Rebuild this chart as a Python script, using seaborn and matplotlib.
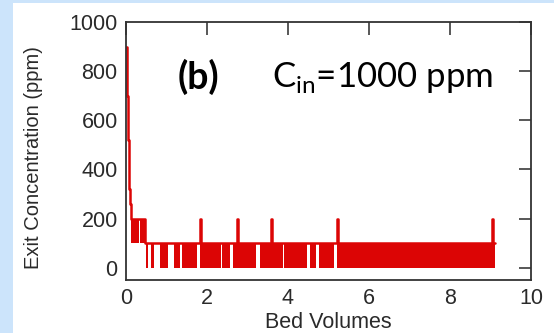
import matplotlib
matplotlib.use("Agg")
import matplotlib.pyplot as plt
from matplotlib.patches import Rectangle
import seaborn as sns
import pandas as pd

# ---- data ----
# upper envelope of the exit-concentration trace (step series)
bed_volumes = [0.00, 0.02, 0.04, 0.07, 0.09, 0.12, 0.48, 1.83, 1.86, 2.73, 2.76,
               3.58, 3.61, 5.21, 5.24, 9.03, 9.07, 9.12]
exit_conc = [900, 700, 520, 320, 260, 200, 100, 200, 100, 200, 100,
             200, 100, 200, 100, 200, 100, 100]

# stretches where readings flicker between 100 and 200 ppm
hi_band_start = [0.12, 0.28, 0.35]
hi_band_end = [0.26, 0.33, 0.48]
# stretches where readings flicker between 0 and 100 ppm
lo_band_start = [0.49, 0.61, 0.83, 1.19, 1.38, 1.82, 2.38, 2.64, 3.30, 3.91, 4.54, 4.76, 5.20]
lo_band_end = [0.55, 0.70, 1.04, 1.34, 1.75, 2.34, 2.57, 3.21, 3.87, 4.48, 4.68, 5.13, 9.12]

x_ticks = [0, 2, 4, 6, 8, 10]
y_ticks = [0, 200, 400, 600, 800, 1000]

RED = "#dc0505"
INK = "#2a2a2a"

sns.set_theme(style="white")
plt.rcParams["font.family"] = ["Liberation Sans", "DejaVu Sans"]

fig = plt.figure(figsize=(5.54, 3.33), dpi=100)
fig.patch.set_facecolor("white")
fig.patches.append(Rectangle((0, 0), 13 / 554, 1, transform=fig.transFigure,
                             facecolor="#cce4fb", edgecolor="none", zorder=0))
fig.patches.append(Rectangle((0, 1 - 3 / 333), 1, 3 / 333, transform=fig.transFigure,
                             facecolor="#cce4fb", edgecolor="none", zorder=0))

ax = fig.add_axes([126 / 554, 1 - 280 / 333, (531 - 126) / 554, (280 - 22) / 333])

df = pd.DataFrame({"bv": bed_volumes, "c": exit_conc})
sns.lineplot(data=df, x="bv", y="c", ax=ax, color=RED, lw=1.8,
             drawstyle="steps-post", estimator=None, sort=False)

for s, e in zip(hi_band_start, hi_band_end):
    ax.fill_between([s, e], 100, 200, color=RED, lw=0)
for s, e in zip(lo_band_start, lo_band_end):
    ax.fill_between([s, e], 0, 100, color=RED, lw=0)

ax.set_xlim(0, 10)
ax.set_ylim(-50, 1000)
ax.set_xticks(x_ticks)
ax.set_yticks(y_ticks)
ax.set_xlabel("Bed Volumes", fontsize=15.5, color=INK, labelpad=2)
ax.set_ylabel("Exit Concentration (ppm)", fontsize=14.5, color=INK)
ax.yaxis.set_label_coords(-0.205, 0.475)
ax.tick_params(direction="in", length=9, width=1.1, colors=INK, labelsize=15.5,
               top=True, right=True, pad=6)
for sp in ax.spines.values():
    sp.set_color("#333333")
    sp.set_linewidth(1.3)

ax.text(1.78, 775, "(b)", fontsize=27, fontweight="bold", ha="center", va="center",
        family=["Lato", "DejaVu Sans"], color="black")
ax.text(3.6, 775, r"C$_\mathregular{in}$=1000 ppm", fontsize=25, ha="left", va="center",
        family=["Lato", "DejaVu Sans"], color="black")

fig.savefig("out.png", dpi=100, facecolor=fig.get_facecolor())
